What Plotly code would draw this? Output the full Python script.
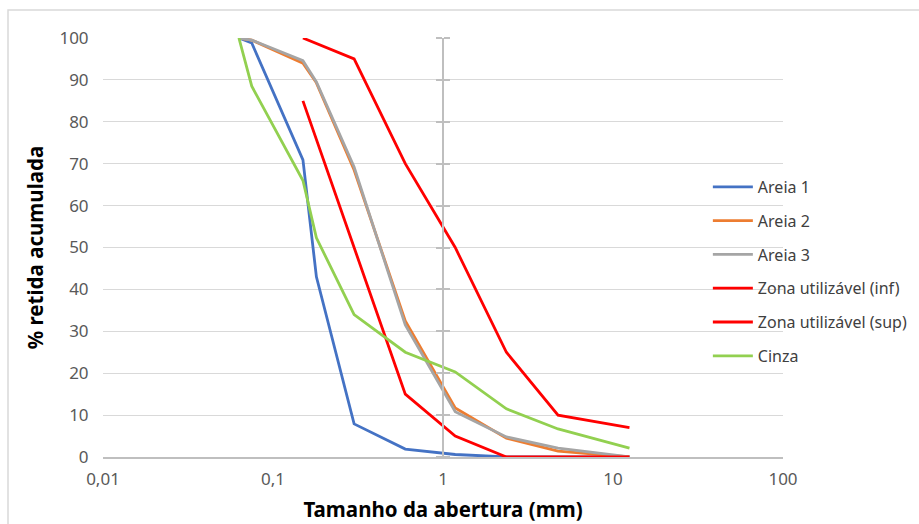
import plotly.graph_objects as go

# Sieve openings (mm) and cumulative % retained for each material
sieves = [0.063, 0.075, 0.15, 0.18, 0.3, 0.6, 1.18, 2.36, 4.75, 12.5]
areia1 = [100, 98.8, 70.9, 43.0, 7.9, 1.9, 0.6, 0, 0, 0]
areia2 = [100, 99.5, 94.0, 89.3, 68.5, 32.5, 11.7, 4.5, 1.4, 0]
areia3 = [100, 99.5, 94.6, 89.5, 69.2, 31.5, 10.8, 4.8, 2.1, 0]
cinza = [100, 88.5, 66.0, 52.3, 34.0, 25.0, 20.3, 11.5, 6.7, 2.1]

# Usable zone limits (NBR 7211)
zona_sieves = [0.15, 0.3, 0.6, 1.18, 2.36, 4.75, 12.5]
zona_inf = [85, 50, 15, 5, 0, 0, 0]
zona_sup = [100, 95, 70, 50, 25, 10, 7]

x_ticks = [0.01, 0.1, 1, 10, 100]
x_tick_text = ["0,01", "0,1", "1", "10", "100"]

FONT = "Noto Sans"

series = [
    ("Areia 1", sieves, areia1, "#4472C4"),
    ("Areia 2", sieves, areia2, "#ED7D31"),
    ("Areia 3", sieves, areia3, "#A5A5A5"),
    ("Zona utilizável (inf)", zona_sieves, zona_inf, "#FF0000"),
    ("Zona utilizável (sup)", zona_sieves, zona_sup, "#FF0000"),
    ("Cinza", sieves, cinza, "#92D050"),
]

fig = go.Figure()

# Empty helper traces so the vertical axis crossing at x = 1 gets rendered
for ax in ("y2", "y3"):
    fig.add_trace(go.Scatter(x=[None], y=[None], yaxis=ax, mode="lines",
                             showlegend=False, hoverinfo="skip"))

for i, (name, xs, ys, color) in enumerate(series):
    fig.add_trace(go.Scatter(
        x=xs, y=ys, name=name, mode="lines",
        line=dict(color=color, width=2.8),
        legendgroup=f"g{i}",
    ))

tick_axis = dict(
    overlaying="y", anchor="free", position=0.5, automargin=False,
    range=[0, 100], dtick=10, tick0=0,
    showgrid=False, zeroline=False, showticklabels=False,
    ticks="outside", ticklen=6, tickwidth=1.5, tickcolor="#BFBFBF",
)

fig.update_layout(
    width=919, height=524,
    margin=dict(l=103, r=136, t=38, b=67, autoexpand=False),
    paper_bgcolor="white", plot_bgcolor="white",
    font=dict(family=FONT, color="#595959", size=14),
    xaxis=dict(
        type="log", range=[-2, 2], automargin=False,
        tickvals=x_ticks, ticktext=x_tick_text,
        showgrid=False, zeroline=False,
        showline=True, linecolor="#BFBFBF", linewidth=2,
        ticks="outside", ticklen=6, tickcolor="rgba(0,0,0,0)",
        tickfont=dict(size=17, color="#595959"),
        title=dict(text="<b>Tamanho da abertura (mm)</b>",
                   font=dict(size=20.5, color="#000000"), standoff=13),
    ),
    yaxis=dict(
        range=[0, 100], dtick=10, tick0=0, automargin=False,
        showgrid=True, gridcolor="#D9D9D9", gridwidth=1,
        zeroline=False, showline=False,
        ticks="outside", ticklen=10, tickcolor="rgba(0,0,0,0)",
        tickfont=dict(size=17, color="#595959"),
        title=dict(text="<b>% retida acumulada</b>",
                   font=dict(size=20.5, color="#000000"), standoff=10),
    ),
    yaxis2=dict(side="left", showline=True, linecolor="#BFBFBF", linewidth=2, **tick_axis),
    yaxis3=dict(side="right", showline=False, **tick_axis),
    legend=dict(
        x=0.8895, xanchor="left", y=0.443, yanchor="middle",
        bgcolor="rgba(0,0,0,0)", font=dict(size=16, color="#404040"),
        tracegroupgap=10, itemwidth=40,
    ),
    shapes=[dict(
        type="rect", xref="paper", yref="paper",
        x0=-0.1397, x1=1.4, y0=-0.3, y1=1.0668,
        line=dict(color="#D9D9D9", width=1.5), fillcolor="rgba(0,0,0,0)",
        layer="below",
    )],
)

fig.write_html("out.html")
